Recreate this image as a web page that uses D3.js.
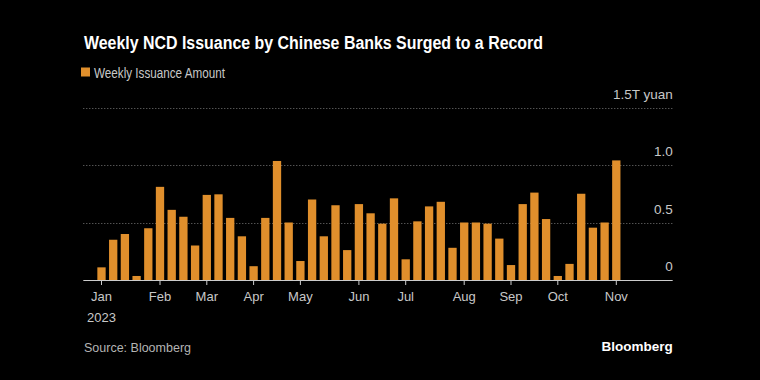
<!DOCTYPE html>
<html>
<head>
<meta charset="utf-8">
<script src="https://cdn.jsdelivr.net/npm/d3@7"></script>
<style>
  html, body { margin: 0; padding: 0; background: #000; }
  svg { display: block; }
  text { font-family: "Liberation Sans", Arial, sans-serif; }
</style>
</head>
<body>
<svg id="chart" width="760" height="380"></svg>
<script>
const weeks = ["2023-01-02","2023-01-09","2023-01-16","2023-01-23","2023-01-30",
  "2023-02-06","2023-02-13","2023-02-20","2023-02-27",
  "2023-03-06","2023-03-13","2023-03-20","2023-03-27",
  "2023-04-03","2023-04-10","2023-04-17","2023-04-24",
  "2023-05-01","2023-05-08","2023-05-15","2023-05-22","2023-05-29",
  "2023-06-05","2023-06-12","2023-06-19","2023-06-26",
  "2023-07-03","2023-07-10","2023-07-17","2023-07-24","2023-07-31",
  "2023-08-07","2023-08-14","2023-08-21","2023-08-28",
  "2023-09-04","2023-09-11","2023-09-18","2023-09-25",
  "2023-10-02","2023-10-09","2023-10-16","2023-10-23","2023-10-30",
  "2023-11-06"];
const issuance = [0.11,0.35,0.40,0.035,0.45,
  0.81,0.61,0.55,0.30,
  0.74,0.745,0.54,0.38,
  0.12,0.54,1.035,0.50,
  0.165,0.70,0.38,0.65,0.26,
  0.66,0.58,0.49,0.71,
  0.18,0.51,0.64,0.68,0.28,
  0.50,0.50,0.49,0.36,
  0.13,0.66,0.76,0.53,
  0.035,0.14,0.75,0.455,0.50,
  1.04];
const tickWeeks = ["2023-01-02","2023-02-06","2023-03-06","2023-04-03","2023-05-01",
  "2023-06-05","2023-07-03","2023-08-07","2023-09-04","2023-10-02","2023-11-06"];
const tickLabels = ["Jan","Feb","Mar","Apr","May","Jun","Jul","Aug","Sep","Oct","Nov"];
const yTicks = [0, 0.5, 1.0, 1.5];
const yTickLabels = ["0", "0.5", "1.0", "1.5T yuan"];
const seriesName = "Weekly Issuance Amount";
const title = "Weekly NCD Issuance by Chinese Banks Surged to a Record";

const svg = d3.select("#chart");
const left = 83.3, right = 672.7, base = 280;

const x = d3.scaleBand().domain(weeks).range([95.65, 622.15])
  .paddingInner(0.29).paddingOuter(0.145);
const y = d3.scaleLinear().domain([0, 1.5]).range([base, 107.5]);

// title
svg.append("text").attr("x", 84).attr("y", 48.5)
  .attr("fill", "#fff").attr("font-size", 18).attr("font-weight", "bold")
  .attr("textLength", 459).attr("lengthAdjust", "spacingAndGlyphs")
  .text(title);

// legend
svg.append("rect").attr("x", 81).attr("y", 67.5).attr("width", 9).attr("height", 9)
  .attr("fill", "#e08f2c");
svg.append("text").attr("x", 94).attr("y", 77.5)
  .attr("fill", "#c8c8c8").attr("font-size", 14)
  .attr("textLength", 131).attr("lengthAdjust", "spacingAndGlyphs")
  .text(seriesName);

// gridlines
svg.append("g").selectAll("line").data(yTicks.filter(d => d > 0)).join("line")
  .attr("x1", left).attr("x2", right)
  .attr("y1", d => Math.round(y(d)) + 0.5).attr("y2", d => Math.round(y(d)) + 0.5)
  .attr("stroke", "#777").attr("stroke-width", 1).attr("stroke-dasharray", "1,2");

svg.append("g").selectAll("text").data(yTicks).join("text")
  .attr("x", right).attr("y", d => y(d) - 9)
  .attr("text-anchor", "end").attr("fill", "#c8c8c8").attr("font-size", 13.5)
  .text((d, i) => yTickLabels[i]);

// bars
svg.append("g").selectAll("rect").data(issuance).join("rect")
  .attr("x", (d, i) => x(weeks[i]))
  .attr("width", x.bandwidth())
  .attr("y", d => y(d))
  .attr("height", d => base - y(d))
  .attr("fill", "#e08f2c");

// x axis
const xAxis = d3.axisBottom(x).tickValues(tickWeeks)
  .tickFormat((d, i) => tickLabels[i]).tickSize(5).tickSizeOuter(0);
const gx = svg.append("g").attr("transform", `translate(0,${base})`).call(xAxis);
gx.select(".domain").remove();
gx.selectAll(".tick line").attr("stroke", "#ccc");
gx.selectAll(".tick text").attr("fill", "#c8c8c8").attr("font-size", 13)
  .attr("font-family", "Liberation Sans, Arial, sans-serif").attr("dy", "1em");
svg.append("line").attr("x1", left).attr("x2", right)
  .attr("y1", base + 0.5).attr("y2", base + 0.5).attr("stroke", "#ccc");
svg.append("text").attr("x", x(tickWeeks[0]) + x.bandwidth() / 2).attr("y", 321.5)
  .attr("text-anchor", "middle").attr("fill", "#c8c8c8").attr("font-size", 13).text("2023");

// footer
svg.append("text").attr("x", 84).attr("y", 352)
  .attr("fill", "#b4b4b4").attr("font-size", 12.5).text("Source: Bloomberg");
svg.append("text").attr("x", right).attr("y", 351)
  .attr("text-anchor", "end").attr("fill", "#fff").attr("font-size", 13.5)
  .attr("font-weight", "bold").text("Bloomberg");
</script>
</body>
</html>
